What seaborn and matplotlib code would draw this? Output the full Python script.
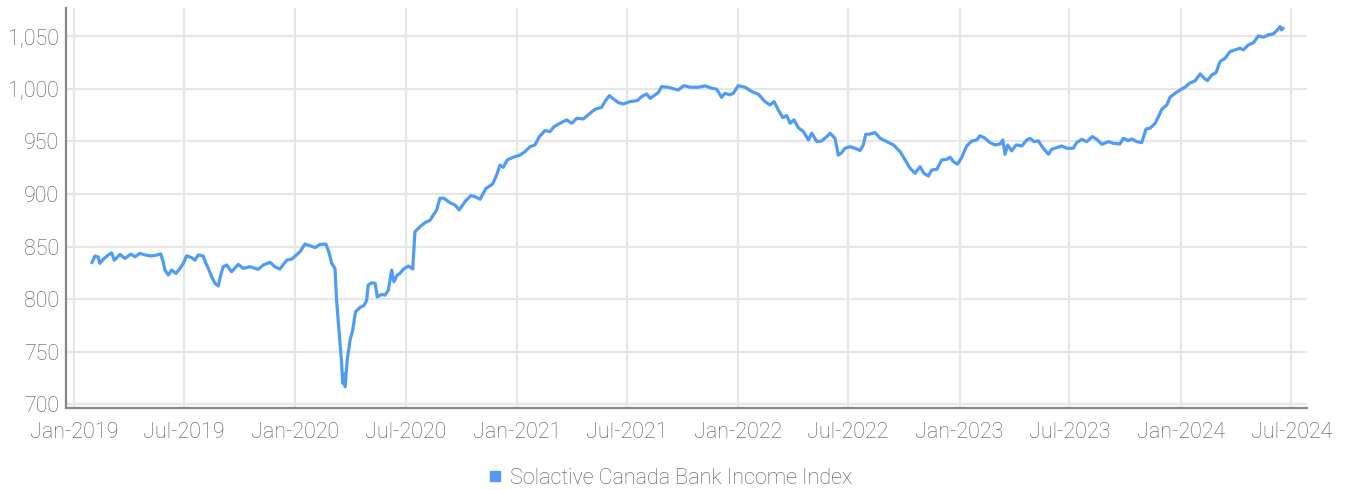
import numpy as np
import pandas as pd
import seaborn as sns
import matplotlib.pyplot as plt
import matplotlib.dates as mdates
from matplotlib.lines import Line2D

# time as years after 1 Jan 2019
years_after_2019 = [
    0.081, 0.095, 0.110, 0.117, 0.132, 0.155, 0.170, 0.182, 0.208, 0.230,
    0.257, 0.276, 0.298, 0.321, 0.351, 0.376, 0.392, 0.403, 0.411, 0.426,
    0.441, 0.461, 0.479, 0.494, 0.509, 0.532, 0.547, 0.561, 0.584, 0.596,
    0.607, 0.622, 0.637, 0.652, 0.663, 0.674, 0.690, 0.712, 0.742, 0.765,
    0.795, 0.832, 0.855, 0.885, 0.908, 0.930, 0.961, 0.983, 1.021, 1.043,
    1.066, 1.089, 1.111, 1.138, 1.153, 1.164, 1.179, 1.186, 1.198, 1.209,
    1.214, 1.221, 1.225, 1.234, 1.247, 1.259, 1.272, 1.292, 1.310, 1.322,
    1.329, 1.345, 1.360, 1.370, 1.390, 1.405, 1.420, 1.435, 1.445, 1.460,
    1.472, 1.487, 1.510, 1.530, 1.540, 1.563, 1.585, 1.608, 1.638, 1.653,
    1.671, 1.698, 1.721, 1.740, 1.766, 1.792, 1.811, 1.834, 1.861, 1.891,
    1.909, 1.924, 1.939, 1.957, 1.984, 2.014, 2.037, 2.060, 2.082, 2.102,
    2.127, 2.150, 2.168, 2.195, 2.225, 2.248, 2.271, 2.300, 2.331, 2.353,
    2.383, 2.398, 2.418, 2.436, 2.458, 2.481, 2.511, 2.544, 2.564, 2.587,
    2.602, 2.624, 2.639, 2.654, 2.684, 2.715, 2.729, 2.755, 2.782, 2.820,
    2.850, 2.880, 2.903, 2.925, 2.940, 2.963, 2.978, 3.000, 3.031, 3.061,
    3.091, 3.121, 3.144, 3.162, 3.181, 3.201, 3.219, 3.234, 3.252, 3.271,
    3.294, 3.317, 3.332, 3.355, 3.377, 3.400, 3.415, 3.437, 3.452, 3.467,
    3.482, 3.505, 3.528, 3.550, 3.565, 3.576, 3.595, 3.618, 3.641, 3.671,
    3.701, 3.731, 3.754, 3.776, 3.799, 3.821, 3.839, 3.859, 3.874, 3.897,
    3.919, 3.942, 3.957, 3.972, 3.990, 4.009, 4.032, 4.055, 4.077, 4.092,
    4.115, 4.137, 4.160, 4.183, 4.195, 4.205, 4.217, 4.235, 4.255, 4.281,
    4.303, 4.318, 4.336, 4.355, 4.378, 4.401, 4.416, 4.439, 4.461, 4.484,
    4.513, 4.529, 4.551, 4.574, 4.599, 4.619, 4.642, 4.672, 4.694, 4.724,
    4.739, 4.762, 4.777, 4.800, 4.822, 4.842, 4.860, 4.883, 4.898, 4.913,
    4.936, 4.950, 4.973, 4.996, 5.018, 5.038, 5.063, 5.086, 5.104, 5.119,
    5.139, 5.158, 5.176, 5.199, 5.221, 5.244, 5.266, 5.281, 5.304, 5.327,
    5.349, 5.372, 5.394, 5.417, 5.432, 5.447, 5.454, 5.461,
]

index_values = [
    834.6, 841.0, 840.0, 834.0, 837.8, 842.0, 844.0, 837.0, 842.5, 838.7,
    842.8, 840.3, 843.5, 842.0, 841.0, 842.0, 843.0, 835.5, 827.6, 822.9,
    827.6, 824.4, 829.2, 834.0, 841.2, 839.4, 837.0, 842.0, 841.0, 834.0,
    829.2, 821.3, 815.0, 812.4, 822.9, 830.8, 832.4, 826.0, 833.0, 829.2,
    830.8, 828.3, 832.4, 835.0, 830.8, 828.6, 837.0, 838.0, 845.0, 852.4,
    850.8, 849.0, 852.0, 852.4, 843.5, 834.0, 829.2, 799.0, 767.0, 738.8,
    719.7, 729.0, 716.5, 742.0, 761.0, 770.5, 788.0, 792.0, 794.0, 799.0,
    813.3, 815.5, 815.0, 802.0, 804.4, 803.8, 808.6, 827.6, 816.5, 822.9,
    824.4, 828.3, 831.4, 828.6, 864.0, 868.9, 872.7, 875.0, 884.8, 896.0,
    896.0, 891.7, 889.5, 884.8, 892.7, 898.4, 897.5, 895.0, 905.4, 909.5,
    918.0, 927.6, 925.4, 932.4, 935.0, 937.0, 940.3, 945.0, 946.7, 954.6,
    960.3, 959.4, 964.0, 967.3, 970.5, 967.3, 972.0, 971.4, 976.8, 980.6,
    982.5, 987.9, 993.6, 990.5, 987.0, 985.7, 987.9, 988.9, 992.7, 995.2,
    991.0, 994.3, 996.5, 1002.2, 1001.6, 999.7, 999.0, 1003.1, 1001.6, 1001.6,
    1002.9, 1000.7, 999.7, 992.0, 995.9, 994.3, 995.9, 1003.1, 1001.6, 997.5,
    994.9, 987.9, 984.8, 987.9, 980.0, 972.7, 974.6, 967.3, 970.5, 963.2,
    959.4, 951.4, 957.8, 949.8, 950.5, 954.6, 957.8, 953.0, 937.0, 939.3,
    943.5, 945.0, 943.5, 941.3, 946.7, 956.8, 957.0, 958.4, 953.0, 949.8,
    946.7, 940.3, 932.4, 924.5, 919.7, 926.0, 919.7, 917.1, 922.9, 923.5,
    932.4, 933.0, 935.0, 930.8, 928.3, 934.6, 945.7, 950.5, 951.4, 955.5,
    953.0, 948.9, 946.7, 947.6, 951.4, 937.8, 946.7, 941.0, 946.7, 945.7,
    951.4, 953.0, 949.8, 950.5, 943.5, 937.8, 942.6, 944.1, 945.7, 943.5,
    943.5, 948.9, 952.0, 949.8, 954.6, 952.0, 947.3, 949.8, 948.2, 947.6,
    953.0, 950.8, 952.4, 949.8, 948.9, 961.9, 962.6, 967.3, 973.6, 980.6,
    984.8, 992.0, 995.9, 999.0, 1001.6, 1005.4, 1007.6, 1014.3, 1010.2, 1007.9,
    1013.3, 1015.5, 1026.0, 1029.2, 1035.5, 1037.1, 1038.7, 1037.1, 1041.9, 1044.0,
    1050.4, 1049.2, 1051.4, 1052.4, 1055.5, 1059.3, 1056.2, 1057.8,
]

series_name = "Solactive Canada Bank Income Index"
line_color = "#4f9bf6"
text_color = "#555555"

dates = pd.Timestamp("2019-01-01") + pd.to_timedelta(np.array(years_after_2019) * 365.25, unit="D")
df = pd.DataFrame({"date": dates, "value": index_values})

sns.set_theme(style="whitegrid")
plt.rcParams["font.family"] = ["Roboto", "DejaVu Sans"]

fig = plt.figure(figsize=(13.48, 4.9), dpi=100)
ax = fig.add_axes([0.049, 0.167, 0.9206, 0.8167])

sns.lineplot(data=df, x="date", y="value", color=line_color, linewidth=2.3, ax=ax)

ax.set_xlim(pd.Timestamp("2018-12-19"), pd.Timestamp("2024-07-27"))
ax.set_ylim(696.2, 1077)
ax.set_yticks([700, 750, 800, 850, 900, 950, 1000, 1050])
ax.yaxis.set_major_formatter(plt.FuncFormatter(lambda v, p: f"{v:,.0f}"))
ax.xaxis.set_major_locator(mdates.MonthLocator(bymonth=[1, 7]))
ax.xaxis.set_major_formatter(mdates.DateFormatter("%b-%Y"))

ax.grid(True, color="#e6e6e6", linewidth=1.6)
ax.set_xlabel("")
ax.set_ylabel("")
for side in ["top", "right"]:
    ax.spines[side].set_visible(False)
for side in ["left", "bottom"]:
    ax.spines[side].set_color("#888888")
    ax.spines[side].set_linewidth(1.6)
ax.tick_params(axis="both", length=0, labelsize=15.5, labelcolor=text_color)
ax.tick_params(axis="x", pad=10)
ax.tick_params(axis="y", pad=5)
for lbl in ax.get_xticklabels() + ax.get_yticklabels():
    lbl.set_fontweight("light")

handle = Line2D([], [], marker="s", linestyle="none", markersize=7.5,
                markerfacecolor=line_color, markeredgecolor=line_color)
leg = fig.legend([handle], [series_name], loc="center", bbox_to_anchor=(0.4915, 0.024),
                 frameon=False, fontsize=15.5, handletextpad=-0.3, labelcolor=text_color)
for t in leg.get_texts():
    t.set_fontweight("light")

fig.savefig("out.png", dpi=100)
